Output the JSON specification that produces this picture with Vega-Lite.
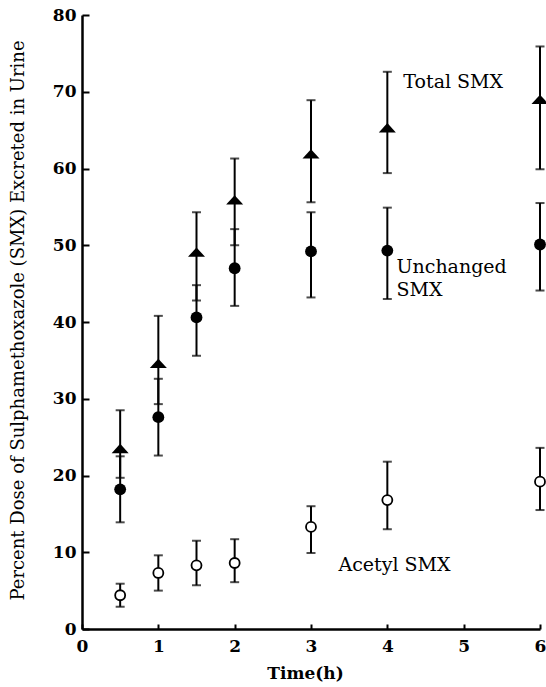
{
  "$schema": "https://vega.github.io/schema/vega-lite/v6.json",
  "width": 458,
  "height": 614,
  "autosize": {"type": "none"},
  "padding": {"left": 82, "top": 15, "right": 6, "bottom": 58},
  "background": "white",
  "config": {
    "view": {"stroke": null},
    "font": "DejaVu Serif",
    "axis": {
      "labelFont": "DejaVu Serif",
      "labelFontSize": 17,
      "labelFontWeight": "bold",
      "labelColor": "black",
      "titleFont": "DejaVu Serif",
      "titleColor": "black",
      "domainColor": "black",
      "domainWidth": 2.5,
      "tickColor": "black",
      "tickWidth": 2,
      "grid": false
    }
  },
  "datasets": {
    "points": [
      {"series": "Unchanged", "time": 0.5, "mean": 18.2, "lo": 13.9, "hi": 22.5},
      {"series": "Unchanged", "time": 1, "mean": 27.6, "lo": 22.6, "hi": 32.6},
      {"series": "Unchanged", "time": 1.5, "mean": 40.6, "lo": 35.6, "hi": 44.8},
      {"series": "Unchanged", "time": 2, "mean": 47.0, "lo": 42.1, "hi": 52.1},
      {"series": "Unchanged", "time": 3, "mean": 49.2, "lo": 43.2, "hi": 54.3},
      {"series": "Unchanged", "time": 4, "mean": 49.3, "lo": 43.0, "hi": 54.9},
      {"series": "Unchanged", "time": 6, "mean": 50.1, "lo": 44.1, "hi": 55.5},
      {"series": "Total", "time": 0.5, "mean": 23.4, "lo": 19.7, "hi": 28.5},
      {"series": "Total", "time": 1, "mean": 34.5, "lo": 29.3, "hi": 40.8},
      {"series": "Total", "time": 1.5, "mean": 49.0, "lo": 42.8, "hi": 54.3},
      {"series": "Total", "time": 2, "mean": 55.8, "lo": 50.0, "hi": 61.3},
      {"series": "Total", "time": 3, "mean": 61.8, "lo": 55.6, "hi": 68.9},
      {"series": "Total", "time": 4, "mean": 65.2, "lo": 59.4, "hi": 72.6},
      {"series": "Total", "time": 6, "mean": 68.9, "lo": 59.9, "hi": 75.9},
      {"series": "Acetyl", "time": 0.5, "mean": 4.4, "lo": 2.9, "hi": 5.9},
      {"series": "Acetyl", "time": 1, "mean": 7.3, "lo": 5.0, "hi": 9.6},
      {"series": "Acetyl", "time": 1.5, "mean": 8.3, "lo": 5.7, "hi": 11.5},
      {"series": "Acetyl", "time": 2, "mean": 8.6, "lo": 6.1, "hi": 11.7},
      {"series": "Acetyl", "time": 3, "mean": 13.3, "lo": 9.9, "hi": 16.0},
      {"series": "Acetyl", "time": 4, "mean": 16.8, "lo": 13.0, "hi": 21.8},
      {"series": "Acetyl", "time": 6, "mean": 19.2, "lo": 15.5, "hi": 23.6}
    ],
    "labels": [
      {"label": "Total SMX", "lx": 4.21, "ly": 71.3},
      {"label": "Unchanged", "lx": 4.12, "ly": 47.2},
      {"label": "SMX", "lx": 4.12, "ly": 44.2},
      {"label": "Acetyl SMX", "lx": 3.36, "ly": 8.3}
    ]
  },
  "layer": [
    {
      "data": {"name": "points"},
      "encoding": {
        "x": {
          "field": "time", "type": "quantitative",
          "scale": {"domain": [0, 6], "nice": false, "zero": false},
          "axis": {
            "values": [0, 1, 2, 3, 4, 5, 6],
            "format": "d",
            "tickSize": -5,
            "labelPadding": 14,
            "title": "Time(h)",
            "titleFontSize": 17,
            "titleFontWeight": "bold",
            "titleX": 223,
            "titleY": 44,
            "titleBaseline": "middle",
            "titleAlign": "center",
            "labelFlush": false
          }
        },
        "y": {
          "field": "mean", "type": "quantitative",
          "scale": {"domain": [0, 80], "nice": false},
          "axis": {
            "values": [0, 10, 20, 30, 40, 50, 60, 70, 80],
            "tickSize": -7,
            "labelPadding": 13,
            "title": "Percent Dose of Sulphamethoxazole (SMX) Excreted in Urine",
            "titleFontSize": 18,
            "titleFontWeight": "normal",
            "titleX": -64,
            "titleY": 305,
            "titleAngle": -90,
            "titleBaseline": "middle",
            "titleAlign": "center"
          }
        }
      },
      "layer": [
        {
          "mark": {"type": "rule", "color": "black", "strokeWidth": 2},
          "encoding": {"y": {"field": "lo", "type": "quantitative"}, "y2": {"field": "hi"}}
        },
        {
          "mark": {"type": "tick", "orient": "horizontal", "color": "black", "size": 9, "thickness": 2},
          "encoding": {"y": {"field": "lo", "type": "quantitative"}}
        },
        {
          "mark": {"type": "tick", "orient": "horizontal", "color": "black", "size": 9, "thickness": 2},
          "encoding": {"y": {"field": "hi", "type": "quantitative"}}
        },
        {
          "transform": [{"filter": "datum.series === 'Unchanged'"}],
          "mark": {"type": "point", "shape": "circle", "filled": true, "color": "black", "size": 140, "opacity": 1}
        },
        {
          "transform": [{"filter": "datum.series === 'Total'"}],
          "mark": {"type": "point", "shape": "M -1 0.45 L 0 -0.65 L 1 0.45 Z", "filled": true, "color": "black", "size": 290, "opacity": 1}
        },
        {
          "transform": [{"filter": "datum.series === 'Acetyl'"}],
          "mark": {"type": "point", "shape": "circle", "filled": true, "fill": "white", "stroke": "black", "strokeWidth": 1.8, "size": 100, "opacity": 1}
        }
      ]
    },
    {
      "data": {"name": "labels"},
      "mark": {"type": "text", "align": "left", "baseline": "middle", "fontSize": 19, "font": "DejaVu Serif", "fill": "black"},
      "encoding": {
        "x": {"field": "lx", "type": "quantitative"},
        "y": {"field": "ly", "type": "quantitative"},
        "text": {"field": "label"}
      }
    }
  ]
}
